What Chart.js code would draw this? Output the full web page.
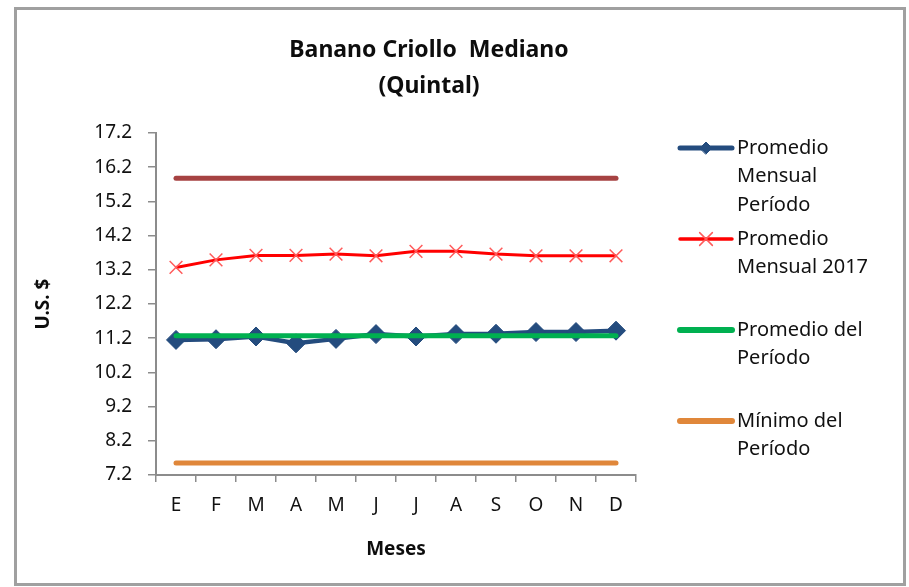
<!DOCTYPE html>
<html>
<head>
<meta charset="utf-8">
<script src="https://cdn.jsdelivr.net/npm/chart.js@4/dist/chart.umd.min.js"></script>
<style>
  html, body { margin: 0; padding: 0; background: #ffffff; }
  #c { display: block; }
</style>
</head>
<body>
<canvas id="c" width="909" height="587"></canvas>
<script>
// ---- Data ----
const months = ['E', 'F', 'M', 'A', 'M', 'J', 'J', 'A', 'S', 'O', 'N', 'D'];
const promedioMensualPeriodo = [11.15, 11.17, 11.25, 11.05, 11.18, 11.32, 11.25, 11.32, 11.33, 11.38, 11.38, 11.42];
const promedioMensual2017 = [13.27, 13.49, 13.62, 13.62, 13.66, 13.61, 13.74, 13.74, 13.66, 13.61, 13.61, 13.61];
const promedioDelPeriodo = [11.27, 11.27, 11.27, 11.27, 11.27, 11.27, 11.27, 11.27, 11.27, 11.27, 11.27, 11.27];
const minimoDelPeriodo = [7.55, 7.55, 7.55, 7.55, 7.55, 7.55, 7.55, 7.55, 7.55, 7.55, 7.55, 7.55];
const maximoDelPeriodo = [15.88, 15.88, 15.88, 15.88, 15.88, 15.88, 15.88, 15.88, 15.88, 15.88, 15.88, 15.88];
const yTicks = [7.2, 8.2, 9.2, 10.2, 11.2, 12.2, 13.2, 14.2, 15.2, 16.2, 17.2];
const titleLines = ['Banano Criollo  Mediano', '(Quintal)'];
const xTitle = 'Meses';
const yTitle = 'U.S. $';
const legendLines = [
  ['Promedio', 'Mensual', 'Período'],
  ['Promedio', 'Mensual 2017'],
  ['Promedio del', 'Período'],
  ['Mínimo del', 'Período']
];

const FONT = "'Noto Sans', 'Open Sans', sans-serif";
const C_BLUE = '#244C7E', C_RED = '#FF0000', C_REDX = '#FF5A5A', C_GREEN = '#00B050', C_ORANGE = '#E0873A', C_BROWN = '#A64242';

const framePlugin = {
  id: 'frameAndText',
  beforeDraw(chart) {
    const ctx = chart.ctx;
    ctx.save();
    ctx.fillStyle = '#ffffff';
    ctx.fillRect(0, 0, chart.width, chart.height);
    ctx.strokeStyle = '#a0a0a0';
    ctx.lineWidth = 3;
    ctx.strokeRect(15.5, 8.5, 889, 576);
    ctx.restore();
  },
  afterDraw(chart) {
    const ctx = chart.ctx;
    ctx.save();
    // Title
    ctx.fillStyle = '#0d0d0d';
    ctx.font = "bold 23px " + FONT;
    ctx.textAlign = 'center';
    ctx.textBaseline = 'middle';
    ctx.fillText(titleLines[0], 429, 50);
    ctx.fillText(titleLines[1], 429, 86);

    // Legend
    const items = [
      { ds: 0, y: 148 },
      { ds: 1, y: 239 },
      { ds: 2, y: 330 },
      { ds: 3, y: 421 }
    ];
    const lineH = 28.5;
    items.forEach((it, i) => {
      const ds = chart.data.datasets[it.ds];
      ctx.strokeStyle = ds.borderColor;
      ctx.lineWidth = ds.legendWidth;
      ctx.lineCap = 'round';
      ctx.beginPath();
      ctx.moveTo(680, it.y);
      ctx.lineTo(732, it.y);
      ctx.stroke();
      if (ds.pointRadius > 0) {
        ctx.fillStyle = ds.pointBackgroundColor;
        ctx.strokeStyle = ds.pointBorderColor;
        ctx.lineWidth = ds.pointBorderWidth;
        Chart.helpers.drawPoint(ctx, { pointStyle: ds.pointStyle, radius: ds.pointStyle === 'rectRot' ? 6 : 9, rotation: 0, borderWidth: ds.pointBorderWidth }, 706, it.y);
      }
      ctx.fillStyle = '#111111';
      ctx.font = "20px " + FONT;
      ctx.textAlign = 'left';
      ctx.textBaseline = 'middle';
      legendLines[i].forEach((t, k) => ctx.fillText(t, 737, it.y + k * lineH));
    });
    ctx.restore();
  }
};

new Chart(document.getElementById('c'), {
  type: 'line',
  data: {
    labels: months,
    datasets: [
      {
        label: 'Promedio Mensual Período',
        data: promedioMensualPeriodo,
        borderColor: C_BLUE,
        backgroundColor: C_BLUE,
        borderWidth: 4.5,
        legendWidth: 5,
        pointStyle: 'rectRot',
        pointRadius: 9.5,
        pointBackgroundColor: C_BLUE,
        pointBorderColor: C_BLUE,
        pointBorderWidth: 1,
        tension: 0,
        order: 1
      },
      {
        label: 'Promedio Mensual 2017',
        data: promedioMensual2017,
        borderColor: C_RED,
        backgroundColor: C_RED,
        borderWidth: 3,
        legendWidth: 3.5,
        pointStyle: 'crossRot',
        pointRadius: 9,
        pointBackgroundColor: C_REDX,
        pointBorderColor: C_REDX,
        pointBorderWidth: 1.5,
        tension: 0,
        order: 2
      },
      {
        label: 'Promedio del Período',
        data: promedioDelPeriodo,
        borderColor: C_GREEN,
        backgroundColor: C_GREEN,
        borderWidth: 5,
        legendWidth: 6,
        borderCapStyle: 'round',
        pointRadius: 0,
        order: 0
      },
      {
        label: 'Mínimo del Período',
        data: minimoDelPeriodo,
        borderColor: C_ORANGE,
        backgroundColor: C_ORANGE,
        borderWidth: 5,
        legendWidth: 6,
        borderCapStyle: 'round',
        pointRadius: 0,
        order: 2
      },
      {
        label: 'Máximo del Período',
        data: maximoDelPeriodo,
        borderColor: C_BROWN,
        backgroundColor: C_BROWN,
        borderWidth: 5,
        borderCapStyle: 'round',
        pointRadius: 0,
        order: 2
      }
    ]
  },
  options: {
    responsive: false,
    animation: false,
    devicePixelRatio: 1,
    layout: { padding: { left: 14, right: 273, top: 133, bottom: 10 } },
    plugins: {
      legend: { display: false },
      title: { display: false },
      tooltip: { enabled: false }
    },
    scales: {
      x: {
        offset: true,
        grid: { offset: true, drawOnChartArea: false, tickLength: 7, color: '#8c8c8c', lineWidth: 1.5 },
        border: { color: '#8c8c8c', width: 2 },
        ticks: { font: { family: FONT, size: 19 }, color: '#111111', padding: 12, maxRotation: 0, autoSkip: false },
        title: { display: true, text: xTitle, font: { family: FONT, size: 19, weight: 'bold' }, color: '#0d0d0d', padding: { top: 0, bottom: 16 } },
        afterFit(s) { s.height = 102; }
      },
      y: {
        min: 7.2,
        max: 17.2,
        afterBuildTicks(s) { s.ticks = yTicks.map(v => ({ value: v })); },
        grid: { drawOnChartArea: false, tickLength: 8, color: '#8c8c8c', lineWidth: 1.5 },
        border: { color: '#8c8c8c', width: 2 },
        ticks: { font: { family: FONT, size: 19 }, color: '#111111', padding: 16, callback: v => Number(v).toFixed(1) },
        title: { display: true, text: yTitle, font: { family: FONT, size: 19, weight: 'bold' }, color: '#0d0d0d', padding: { top: 18, bottom: 0 } },
        afterFit(s) { s.width = 142; }
      }
    }
  },
  plugins: [framePlugin]
});
</script>
</body>
</html>
